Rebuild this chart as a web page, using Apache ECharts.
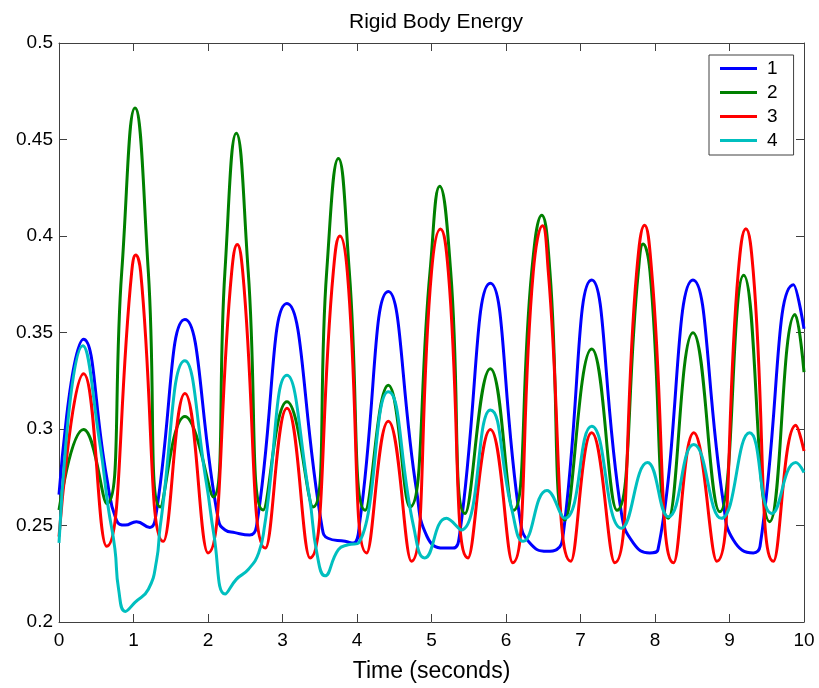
<!DOCTYPE html>
<html>
<head>
<meta charset="utf-8">
<script src="https://cdn.jsdelivr.net/npm/echarts@6/dist/echarts.min.js"></script>
<style>
  html, body { margin: 0; padding: 0; background: #ffffff; }
  #chart { width: 819px; height: 688px; }
</style>
</head>
<body>
<div id="chart"></div>
<script>
// Body 1 energy: sample times (s) and energy values
var t1 = [0.00, 0.33, 0.64, 0.77, 0.89, 1.04, 1.22, 1.29, 1.69, 2.14, 2.23, 2.36, 2.56, 2.65, 3.06, 3.53, 3.61, 3.84, 3.95, 4.04, 4.42, 4.80, 4.94, 5.16, 5.29, 5.38, 5.79, 6.19, 6.32, 6.55, 6.68, 6.77, 7.15, 7.55, 7.71, 7.93, 8.04, 8.51, 8.92, 9.05, 9.32, 9.41, 9.86, 10.00];
var e1 = [0.266, 0.3465, 0.275, 0.2528, 0.2502, 0.252, 0.249, 0.2528, 0.3567, 0.2528, 0.2477, 0.2463, 0.2451, 0.2494, 0.365, 0.2494, 0.2434, 0.2418, 0.2409, 0.2528, 0.3712, 0.268, 0.2443, 0.2383, 0.2383, 0.246, 0.3755, 0.2528, 0.2409, 0.2366, 0.2375, 0.246, 0.3772, 0.2562, 0.2409, 0.2358, 0.2375, 0.3772, 0.2613, 0.2426, 0.2358, 0.2392, 0.3747, 0.352];

// Body 2 energy
var t2 = [0.00, 0.33, 0.64, 0.842, 1.02, 1.199, 1.36, 1.69, 2.07, 2.227, 2.38, 2.54, 2.74, 3.06, 3.41, 3.593, 3.75, 3.897, 4.11, 4.42, 4.71, 4.98, 5.11, 5.258, 5.45, 5.79, 6.10, 6.345, 6.48, 6.59, 6.79, 7.15, 7.49, 7.776, 7.84, 7.933, 8.18, 8.51, 8.87, 9.19, 9.54, 9.88, 10.00];
var e2 = [0.258, 0.2997, 0.2613, 0.3814, 0.4663, 0.3814, 0.2596, 0.3065, 0.2648, 0.3814, 0.4533, 0.3814, 0.258, 0.3141, 0.2596, 0.3814, 0.4402, 0.3814, 0.2579, 0.3227, 0.2596, 0.3814, 0.4258, 0.3814, 0.2562, 0.3312, 0.2579, 0.3814, 0.4108, 0.3814, 0.2528, 0.3414, 0.2579, 0.3814, 0.3959, 0.3814, 0.2537, 0.3499, 0.2571, 0.3797, 0.252, 0.3593, 0.3295];

// Body 3 energy
var t3 = [0.00, 0.33, 0.64, 0.976, 1.03, 1.096, 1.40, 1.69, 2.00, 2.318, 2.393, 2.466, 2.77, 3.06, 3.37, 3.682, 3.77, 3.87, 4.13, 4.42, 4.73, 5.00, 5.12, 5.226, 5.49, 5.79, 6.09, 6.366, 6.49, 6.568, 6.87, 7.15, 7.46, 7.754, 7.86, 7.956, 8.25, 8.52, 8.83, 9.118, 9.22, 9.319, 9.59, 9.89, 10.00];
var e3 = [0.2443, 0.3286, 0.2392, 0.3814, 0.3901, 0.3814, 0.2418, 0.3184, 0.2358, 0.3814, 0.3956, 0.3814, 0.2383, 0.3107, 0.2332, 0.3814, 0.4, 0.3814, 0.2358, 0.304, 0.2315, 0.3814, 0.4036, 0.3814, 0.2332, 0.2997, 0.2307, 0.3814, 0.4053, 0.3814, 0.2315, 0.298, 0.2307, 0.3814, 0.4056, 0.3814, 0.2307, 0.298, 0.2315, 0.3814, 0.4038, 0.3814, 0.2315, 0.3019, 0.2886];

// Body 4 energy
var t4 = [0.00, 0.32, 0.55, 0.66, 0.75, 0.80, 0.89, 1.02, 1.20, 1.31, 1.36, 1.69, 1.98, 2.08, 2.23, 2.38, 2.54, 2.68, 2.76, 3.06, 3.36, 3.46, 3.57, 3.75, 3.88, 4.02, 4.42, 4.76, 4.91, 5.20, 5.40, 5.79, 6.08, 6.23, 6.55, 6.79, 7.15, 7.55, 7.90, 8.18, 8.52, 8.89, 9.27, 9.57, 9.89, 10.00];
var e4 = [0.241, 0.3431, 0.292, 0.2596, 0.238, 0.217, 0.2055, 0.2102, 0.217, 0.232, 0.25, 0.3354, 0.2716, 0.245, 0.2145, 0.2221, 0.2272, 0.2358, 0.25, 0.3278, 0.265, 0.236, 0.2239, 0.2375, 0.24, 0.2409, 0.3193, 0.2494, 0.2332, 0.2537, 0.2477, 0.3099, 0.2579, 0.2418, 0.2681, 0.2537, 0.3014, 0.2486, 0.2826, 0.2545, 0.292, 0.2537, 0.298, 0.2562, 0.2826, 0.2775];

var seriesNames = ['1', '2', '3', '4'];
var seriesColors = ['#0000ff', '#008000', '#ff0000', '#00bfbf'];
var xTicks = { min: 0, max: 10, step: 1 };
var yTicks = { min: 0.2, max: 0.5, step: 0.05 };

function pairs(ts, es) {
  return ts.map(function (t, i) { return [t, es[i]]; });
}

var FONT = 'Liberation Sans, Arial, sans-serif';
var AXIS_COLOR = '#404040';

var chart = echarts.init(document.getElementById('chart'), null, { renderer: 'canvas' });

var boxAxisLine = { show: true, onZero: false, lineStyle: { color: AXIS_COLOR, width: 1 } };
var inTicks = { show: true, inside: true, length: 8, lineStyle: { color: AXIS_COLOR, width: 1 } };

var option = {
  backgroundColor: '#ffffff',
  animation: false,
  title: {
    text: 'Rigid Body Energy',
    left: 431,
    textAlign: 'center',
    top: 7,
    textStyle: { fontFamily: FONT, fontSize: 21, fontWeight: 'normal', color: '#000000' }
  },
  grid: { left: 59, right: 15, top: 43, bottom: 58 },
  legend: {
    orient: 'vertical',
    left: 709,
    top: 55,
    padding: [4, 16, 5, 11],
    itemGap: 5,
    itemWidth: 37,
    itemHeight: 3,
    icon: 'rect',
    borderColor: '#404040',
    borderWidth: 1,
    backgroundColor: '#ffffff',
    textStyle: { fontFamily: FONT, fontSize: 19, color: '#000000', lineHeight: 18, padding: [0, 0, 0, 5] },
    data: seriesNames
  },
  xAxis: [
    {
      type: 'value',
      min: xTicks.min, max: xTicks.max, interval: xTicks.step,
      name: 'Time (seconds)',
      nameLocation: 'middle',
      nameGap: 38,
      nameTextStyle: { fontFamily: FONT, fontSize: 23, color: '#000000' },
      axisLine: boxAxisLine,
      axisTick: inTicks,
      axisLabel: { fontFamily: FONT, fontSize: 19, color: '#000000', margin: 9 },
      splitLine: { show: false }
    },
    {
      type: 'value', position: 'top',
      min: xTicks.min, max: xTicks.max, interval: xTicks.step,
      axisLine: boxAxisLine, axisTick: inTicks,
      axisLabel: { show: false }, splitLine: { show: false }
    }
  ],
  yAxis: [
    {
      type: 'value',
      min: yTicks.min, max: yTicks.max, interval: yTicks.step,
      axisLine: boxAxisLine,
      axisTick: inTicks,
      axisLabel: { fontFamily: FONT, fontSize: 19, color: '#000000', margin: 6 },
      splitLine: { show: false }
    },
    {
      type: 'value', position: 'right',
      min: yTicks.min, max: yTicks.max, interval: yTicks.step,
      axisLine: boxAxisLine, axisTick: inTicks,
      axisLabel: { show: false }, splitLine: { show: false }
    }
  ],
  series: [pairs(t1, e1), pairs(t2, e2), pairs(t3, e3), pairs(t4, e4)].map(function (d, i) {
    return {
      name: seriesNames[i],
      type: 'line',
      data: d,
      smooth: 0.5,
      showSymbol: false,
      symbol: 'none',
      lineStyle: { color: seriesColors[i], width: 3 },
      itemStyle: { color: seriesColors[i] }
    };
  })
};

chart.setOption(option);
</script>
</body>
</html>
